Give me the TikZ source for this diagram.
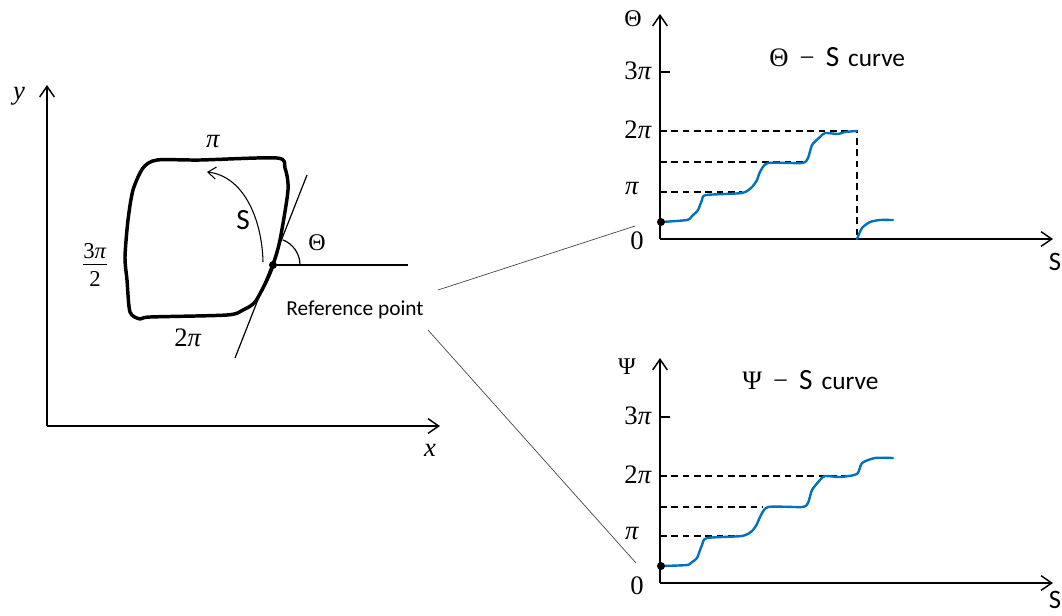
\documentclass[tikz,border=0pt]{standalone}
\usepackage{fontspec}
\setmainfont{Liberation Serif}
\newfontfamily\calib{Carlito}
\usetikzlibrary{arrows.meta}
\definecolor{curveblue}{RGB}{0,112,192}
\begin{document}
\begin{tikzpicture}[x=0.75pt,y=-0.75pt,
 axis/.style={line width=1.1pt,-{Straight Barb[length=8pt,width=11pt]}},
 lbl/.style={font=\fontsize{20}{22}\selectfont, inner sep=0pt},
 sansS/.style={font=\calib\fontsize{20}{22}\selectfont, inner sep=0pt},
 sanslbl/.style={font=\calib\fontsize{16}{18}\selectfont, inner sep=0pt},
 bluecurve/.style={line width=1.8pt, color=curveblue, line join=round, line cap=round},
 guide/.style={line width=0.9pt, dash pattern=on 5pt off 3.5pt},
 dot/.style={circle, fill=black, inner sep=0pt, minimum size=6pt},
 thinline/.style={line width=0.5pt, color=black!75},
]
\useasboundingbox (0,0) rectangle (1062,615);

% ---------- left panel ----------
\coordinate (O) at (47,426);
\coordinate (ytip) at (47,85);
\coordinate (xtip) at (440,426);
\draw[axis] (O) -- (ytip);
\draw[axis] (O) -- (xtip);
\node[lbl, font=\fontsize{20}{22}\selectfont\itshape] (ylab) at (19,96) {y};
\node[lbl, font=\fontsize{20}{22}\selectfont\itshape] (xlab) at (430,450) {x};

\draw[line width=2.6pt, line join=round] plot[smooth cycle, tension=0.45] coordinates {
 (143,168) (157,160) (200,160) (277,158) (285,168) (288,190) (280,240) (273,265)
 (267,280) (255,302) (243,310) (227,315) (150,317) (140,319) (130,312) (127,280)
 (125,257) (128,220) (133,190)};

\node[dot] (ref) at (273,265) {};
\coordinate (tanA) at (307,175);
\coordinate (tanB) at (235,358);
\draw[line width=0.9pt] (tanB) -- (tanA);
\coordinate (hor) at (408,265);
\draw[line width=0.9pt] (ref.center) -- (hor);
\draw[line width=0.9pt] (ref.center) ++(27,0) arc[start angle=0, end angle=-69, radius=27];
\node[lbl, font=\fontsize{18}{20}\selectfont] (thetaL) at (317,243) {Θ};

\coordinate (sA) at (263,262);
\coordinate (sB) at (207,172);
\draw[line width=0.8pt, -{Straight Barb[length=6pt,width=9pt]}] (sA) .. controls (262,218) and (243,176) .. (sB);
\node[sansS, font=\calib\fontsize{22}{24}\selectfont] (Slab) at (243,220) {S};

\node[lbl] (piL) at (213,142) {\textit{π}};
\node[lbl] (twopiL) at (188,338) {2\textit{π}};
\node[lbl, font=\fontsize{17}{19}\selectfont] (threehalf) at (95,267) {\begin{tabular}{@{}c@{}}3\textit{π}\\[-1pt]\hline\rule{0pt}{16pt}2\end{tabular}};

\node[sanslbl] (refL) at (355,310) {Reference point};

% connectors
\coordinate (c1a) at (438,290);
\coordinate (c1b) at (635,226);
\coordinate (c2a) at (428,330);
\coordinate (c2b) at (636,563);
\draw[thinline] (c1a) -- (c1b);
\draw[thinline] (c2a) -- (c2b);

% ---------- top graph ----------
\coordinate (O1) at (660,239);
\coordinate (y1tip) at (660,14);
\coordinate (x1tip) at (1053,239);
\draw[axis] (O1) -- (y1tip);
\draw[axis] (O1) -- (x1tip);
\draw[line width=1pt] (660,72) -- (670,72);
\node[lbl, font=\fontsize{18}{20}\selectfont] (T1) at (633,19) {Θ};
\node[lbl, anchor=east] (T3pi) at (652,71) {3\textit{π}};
\node[lbl, anchor=east] (T2pi) at (652,130) {2\textit{π}};
\node[lbl] (Tpi) at (632,189) {\textit{π}};
\node[lbl] (T0) at (637,241) {0};
\node[sansS] (TS) at (1055,262) {S};
\node[inner sep=0pt, anchor=west] (Ttitle) at (769,57)
 {\fontsize{20}{22}\selectfont Θ \,−\, {\calib\fontsize{22}{24}\selectfont S}\,\,{\calib\fontsize{19}{21}\selectfont curve}};

\draw[guide] (660,131) -- (857,131) -- (857,239);
\draw[guide] (660,162) -- (803,162);
\draw[guide] (660,192) -- (742,192);

\draw[bluecurve] plot[smooth, tension=0.4] coordinates {
 (661,222) (687,220) (692,216) (698,210) (702,200) (706,195) (742,193) (752,187)
 (757,180) (760,172) (768,163) (802,163) (808,158) (812,145) (820,137) (825,133)
 (838,134) (845,132) (857,131)};
\draw[bluecurve] plot[smooth, tension=0.4] coordinates {
 (857,239) (862,228) (870,222) (880,220) (893,220)};
\node[dot] (d1) at (661,222) {};

% ---------- bottom graph ----------
\coordinate (O2) at (660,583);
\coordinate (y2tip) at (660,358);
\coordinate (x2tip) at (1053,583);
\draw[axis] (O2) -- (y2tip);
\draw[axis] (O2) -- (x2tip);
\draw[line width=1pt] (660,417) -- (670,417);
\node[lbl, font=\fontsize{18}{20}\selectfont] (P1) at (627,367) {Ψ};
\node[lbl, anchor=east] (P3pi) at (652,416) {3\textit{π}};
\node[lbl, anchor=east] (P2pi) at (652,475) {2\textit{π}};
\node[lbl] (Ppi) at (632,533) {\textit{π}};
\node[lbl] (P0) at (637,586) {0};
\node[sansS] (PS) at (1055,600) {S};
\node[inner sep=0pt, anchor=west] (Ptitle) at (742,380)
 {\fontsize{20}{22}\selectfont Ψ \,−\, {\calib\fontsize{22}{24}\selectfont S}\,\,{\calib\fontsize{19}{21}\selectfont curve}};

\draw[guide] (660,476) -- (846,476);
\draw[guide] (660,507) -- (763,507);
\draw[guide] (660,536) -- (742,536);

\draw[bluecurve] plot[smooth, tension=0.4] coordinates {
 (661,566) (687,565) (692,562) (697,558) (702,545) (707,538) (742,536) (752,531)
 (757,524) (760,517) (768,507) (802,507) (808,503) (812,490) (820,480) (825,476)
 (840,477) (857,474) (862,463) (875,458) (893,458)};
\node[dot] (d2) at (661,566) {};
\end{tikzpicture}
\end{document}
